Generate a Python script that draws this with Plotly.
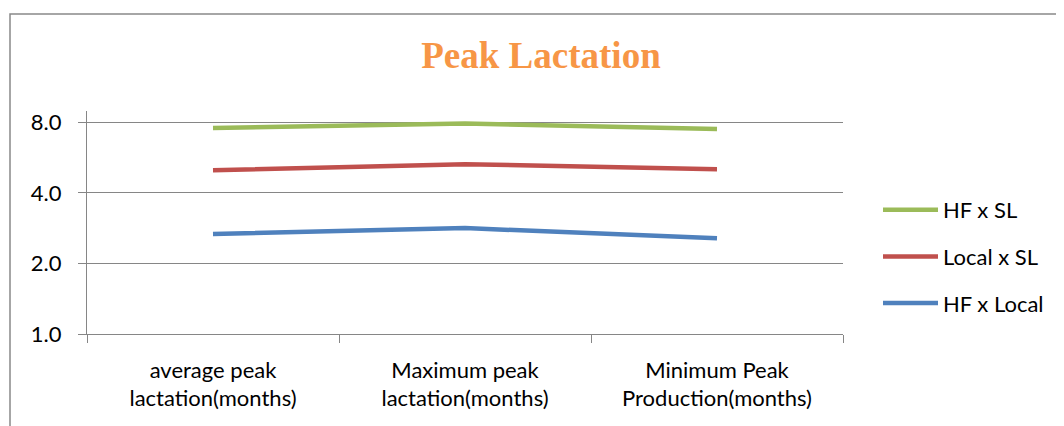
import plotly.graph_objects as go
import math

categories = ["average peak<br>lactation(months)", "Maximum peak<br>lactation(months)", "Minimum Peak<br>Production(months)"]
hf_sl = [7.57, 7.9, 7.49]
local_sl = [5.0, 5.3, 5.04]
hf_local = [2.67, 2.83, 2.56]
series = [("HF x SL", hf_sl, "#9BBB59"), ("Local x SL", local_sl, "#C0504D"), ("HF x Local", hf_local, "#4F81BD")]
tick_vals = [1, 2, 4, 8]
tick_text = ["1.0", "2.0", "4.0", "8.0"]

W, H = 1064, 426
OFF = 8  # page body margin
L, R, T, B = 87 - OFF, 843 - OFF, 111 - OFF, 334 - OFF

fig = go.Figure()
for name, vals, col in series:
    fig.add_trace(go.Scatter(x=categories, y=vals, name=name, mode="lines",
                             line=dict(color=col, width=4.5), legendgroup=name))

font = "Lato, Calibri, sans-serif"
fig.update_layout(
    width=W, height=H,
    margin=dict(l=L, r=W - R, t=T, b=H - B),
    paper_bgcolor="white", plot_bgcolor="white",
    title=dict(text="<b>Peak Lactation</b>", x=(541 - OFF) / W, xanchor="center", y=1 - (55 - OFF) / H, yanchor="middle",
               font=dict(family="Liberation Serif, Times New Roman, serif", size=37, color="#F79646")),
    font=dict(family=font, size=22, color="#000000"),
    legend=dict(x=(878 - OFF - L) / (R - L), xanchor="left", y=(B - (189 - OFF)) / (B - T), yanchor="top",
                font=dict(size=22), tracegroupgap=15, traceorder="grouped", itemwidth=55,
                bgcolor="rgba(0,0,0,0)"),
    showlegend=True,
)
fig.update_xaxes(type="category", range=[-0.5, 2.5], showline=True, linecolor="#868686", linewidth=1.3,
                 ticks="outside", tickson="boundaries", ticklen=8, tickcolor="#868686", tickwidth=1.3,
                 showgrid=False, tickfont=dict(size=22), zeroline=False, ticklabelstandoff=16)
fig.update_yaxes(type="log", range=[0, 3.16 * math.log10(2)], tickvals=tick_vals, ticktext=tick_text,
                 showline=True, linecolor="#868686", linewidth=1.3, ticks="outside", ticklen=8,
                 tickcolor="#868686", tickwidth=1.3, showgrid=True, gridcolor="#868686", gridwidth=1.3,
                 tickfont=dict(size=22), zeroline=False, ticklabelstandoff=12)

# outer chart border
fig.add_shape(type="rect", xref="paper", yref="paper",
              x0=(10 - OFF - L) / (R - L), x1=(1075 - L) / (R - L),
              y0=(B - 440) / (B - T), y1=(B - (14 - OFF)) / (B - T),
              line=dict(color="#898989", width=1.5), fillcolor="rgba(0,0,0,0)", layer="below")

fig.write_html("out.html")
